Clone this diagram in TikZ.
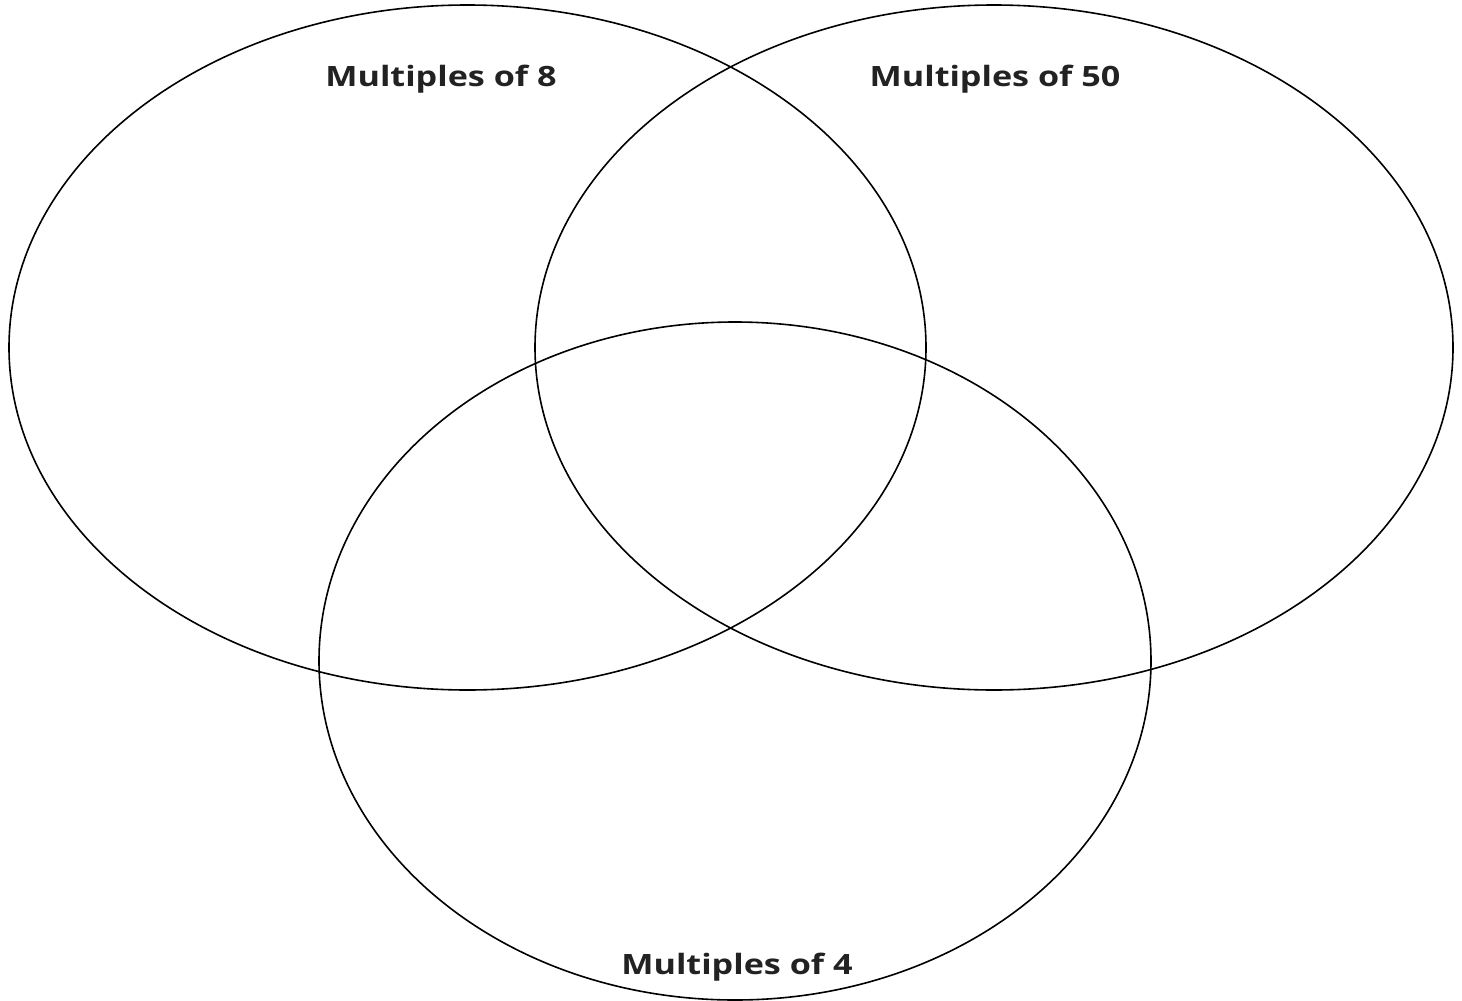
\documentclass[tikz,border=0pt]{standalone}
\usepackage{fontspec}
\setmainfont{Open Sans}[FakeStretch=1.22]
\usetikzlibrary{shapes.geometric}
\definecolor{txt}{HTML}{222222}
\tikzset{
  venn/.style={ellipse, draw=black, line width=1.6pt, inner sep=0pt, outer sep=0pt},
  lbl/.style={font=\fontsize{28}{32}\selectfont\bfseries, text=txt, inner sep=0pt, anchor=base}
}
\begin{document}
\begin{tikzpicture}[x=1pt,y=-1pt]
\useasboundingbox (0,0) rectangle (1462,1001);
\node[venn, minimum width=917pt, minimum height=685pt] (A) at (467.5,347.5) {};
\node[venn, minimum width=918pt, minimum height=685pt] (B) at (994,347.5) {};
\node[venn, minimum width=832pt, minimum height=678pt] (C) at (735,661) {};
\node[lbl] (la) at (441,86) {Multiples of 8};
\node[lbl] (lb) at (995,86) {Multiples of 50};
\node[lbl] (lc) at (737,974) {Multiples of 4};
\end{tikzpicture}
\end{document}
